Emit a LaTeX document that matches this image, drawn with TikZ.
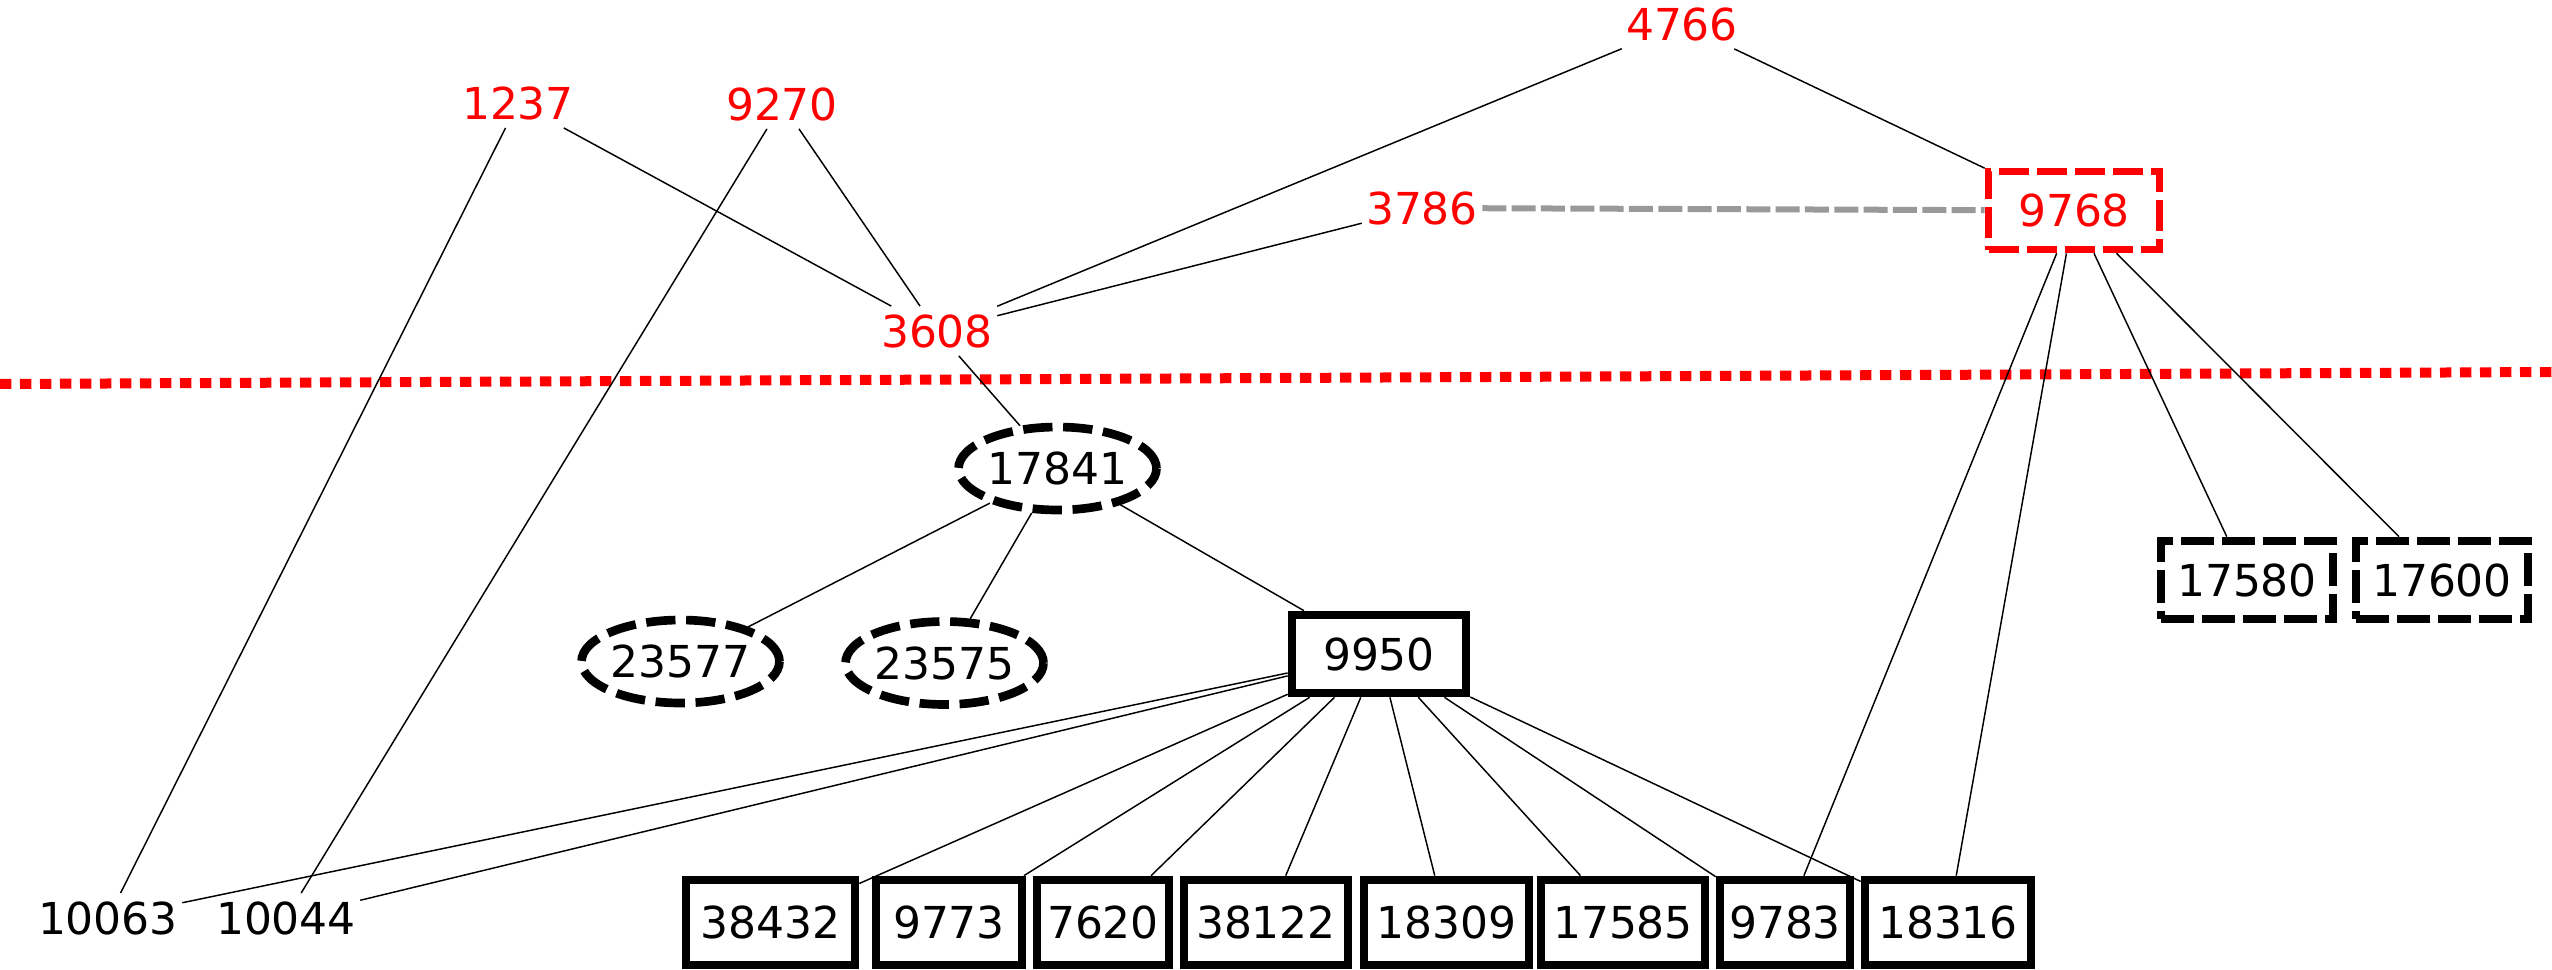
\documentclass[tikz,border=0pt]{standalone}
\usepackage{fontspec}
\usetikzlibrary{shapes.geometric}
\newfontfamily\dvfont{DejaVu Sans}
\newcommand\lblfont{\dvfont\fontsize{33}{40}\selectfont}
\definecolor{edgegray}{HTML}{999999}
\tikzset{
  lbl/.style={font=\lblfont, inner xsep=3pt, inner ysep=6pt},
  redlbl/.style={lbl, text=red},
  sbox/.style={draw, rectangle, line width=6.5pt, inner sep=0pt, font=\lblfont, minimum height=63.75pt},
  dbox/.style={draw, rectangle, line width=6.5pt, inner sep=0pt, font=\lblfont, dash pattern=on 24.75pt off 6pt, minimum width=129pt, minimum height=58.5pt},
  rbox/.style={draw=red, text=red, rectangle, line width=5.75pt, inner sep=0pt, font=\lblfont, dash pattern=on 22.5pt off 6pt, minimum width=128.25pt, minimum height=58.5pt},
  dell/.style={draw, ellipse, line width=6.5pt, inner sep=0pt, font=\lblfont, dash pattern=on 22pt off 8pt, minimum width=143.25pt, minimum height=62.25pt},
  conn/.style={line width=1.1pt},
}
\begin{document}
\begin{tikzpicture}[x=0.75pt, y=-0.75pt]
\useasboundingbox (0,0) rectangle (2552,970);
% separator
\draw[red, line width=7.5pt, dash pattern=on 8.5pt off 6.5pt] (0,384) -- (2552,372);
% labels
\node[redlbl] (n4766) at (1682,24) {4766};
\node[redlbl] (n1237) at (518,103) {1237};
\node[redlbl] (n9270) at (782,104) {9270};
\node[redlbl] (n3786) at (1422,208) {3786};
\node[redlbl] (n3608) at (937,331) {3608};
\node[lbl] (n10063) at (108,918) {10063};
\node[lbl] (n10044) at (286,918) {10044};
\node[rbox] (n9768) at (2074,210.5) {9768};
\node[dell, minimum width=144.75pt] (n17841) at (1057.5,468.5) {17841};
\node[dell] (n23577) at (680.5,661.5) {23577};
\node[dell] (n23575) at (944.5,663) {23575};
\node[sbox, minimum width=130.5pt, minimum height=58.5pt] (n9950) at (1379,654) {9950};
\node[dbox] (n17580) at (2247,580) {17580};
\node[dbox] (n17600) at (2442,580) {17600};
\node[sbox, minimum width=126.75pt] (n38432) at (770.5,922.5) {38432};
\node[sbox, minimum width=109.5pt] (n9773) at (949,922.5) {9773};
\node[sbox, minimum width=99pt] (n7620) at (1103,922.5) {7620};
\node[sbox, minimum width=123pt] (n38122) at (1266,922.5) {38122};
\node[sbox, minimum width=123.75pt] (n18309) at (1446.5,922.5) {18309};
\node[sbox, minimum width=123pt] (n17585) at (1623,922.5) {17585};
\node[sbox, minimum width=97.5pt] (n9783) at (1785,922.5) {9783};
\node[sbox, minimum width=124.5pt] (n18316) at (1948,922.5) {18316};
% connectors
\draw[edgegray, line width=4.5pt, dash pattern=on 18pt off 4pt] (n3786) -- (n9768);
\draw[conn] (n1237) -- (n10063);
\draw[conn] (n1237) -- (n3608);
\draw[conn] (n9270) -- (n10044);
\draw[conn] (n9270) -- (n3608);
\draw[conn] (n4766) -- (n3608);
\draw[conn] (n4766) -- (n9768);
\draw[conn] (n3786) -- (n3608);
\draw[conn] (n3608) -- (n17841);
\draw[conn] (n17841) -- (n23577);
\draw[conn] (n17841) -- (n23575);
\draw[conn] (n17841) -- (n9950);
\foreach \t in {n10063,n10044,n38432,n9773,n7620,n38122,n18309,n17585,n9783,n18316}
  \draw[conn] (n9950) -- (\t);
\foreach \t in {n9783,n18316,n17580,n17600}
  \draw[conn] (n9768) -- (\t);
\end{tikzpicture}
\end{document}
